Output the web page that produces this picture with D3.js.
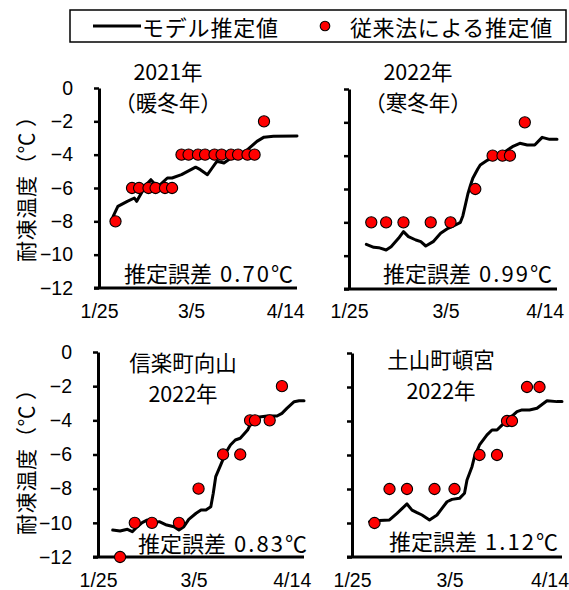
<!DOCTYPE html>
<html>
<head>
<meta charset="utf-8">
<script src="https://cdn.jsdelivr.net/npm/d3@7"></script>
<style>
  html, body { margin: 0; padding: 0; background: #fff; }
  svg { display: block; }
  svg text { text-spacing-trim: space-all; }
  .num { font-family: "Liberation Sans Narrow", "Liberation Sans", sans-serif; }
  .jp  { font-family: "Noto Sans CJK JP", sans-serif; }
</style>
</head>
<body>
<svg id="chart" width="569" height="590"></svg>
<script>
// ---- axis settings ----
const yTicks = [0, -2, -4, -6, -8, -10, -12];
const xTickDates = ["1/25", "3/5", "4/14"];
const axisStartDate = "1/25";
const axisEndDate = "4/19";

// ---- 2021 (warm winter) ----
const model2021Dates  = ["1/31","2/2","2/4","2/6","2/9","2/10","2/12","2/14","2/16","2/18","2/20","2/23","2/25","3/1","3/5","3/7","3/9","3/12","3/14","3/16","3/19","3/22","3/26","3/29","4/2","4/5","4/9","4/19"];
const model2021Values = [-7.7,-7.1,-6.95,-6.8,-6.6,-6.8,-6.3,-5.8,-5.5,-5.8,-5.8,-5.4,-5.4,-5.2,-4.9,-4.75,-4.9,-5.2,-4.8,-4.4,-4.5,-4.2,-4.0,-3.7,-3.2,-2.95,-2.9,-2.88];
const obs2021Dates  = ["2/1","2/8","2/11","2/15","2/18","2/22","2/25","3/1","3/4","3/8","3/11","3/15","3/18","3/22","3/25","3/29","4/1","4/5"];
const obs2021Values = [-8,-6,-6,-6,-6,-6,-6,-4,-4,-4,-4,-4,-4,-4,-4,-4,-4,-2];

// ---- 2022 (cold winter) ----
const model2022Dates  = ["2/1","2/4","2/6","2/9","2/11","2/14","2/16","2/18","2/21","2/23","2/25","2/28","3/3","3/6","3/9","3/11","3/12","3/13","3/14","3/15","3/16","3/18","3/19","3/22","3/26","3/29","4/1","4/4","4/7","4/10","4/13","4/16","4/19"];
const model2022Values = [-9.32,-9.5,-9.52,-9.66,-9.46,-8.96,-8.56,-8.86,-9.06,-9.16,-9.42,-9.16,-8.66,-8.36,-8.16,-8.0,-7.6,-6.95,-6.3,-5.8,-5.35,-4.8,-4.56,-4.26,-4.06,-3.76,-3.46,-3.26,-3.36,-3.36,-2.9,-3.02,-3.02];
const obs2022Dates  = ["2/3","2/9","2/16","2/27","3/7","3/17","3/24","3/28","3/31","4/6"];
const obs2022Values = [-8,-8,-8,-8,-8,-6,-4,-4,-4,-2];

// ---- 信楽町向山 2022 ----
const modelShigarakiDates  = ["1/31","2/3","2/6","2/8","2/10","2/12","2/14","2/17","2/19","2/22","2/25","2/27","3/1","3/3","3/6","3/8","3/10","3/12","3/13","3/14","3/16","3/18","3/20","3/22","3/24","3/27","3/29","3/31","4/4","4/8","4/10","4/12","4/15","4/17","4/19"];
const modelShigarakiValues = [-10.42,-10.48,-10.38,-10.52,-10.23,-9.99,-9.84,-9.99,-9.93,-10.13,-10.23,-10.42,-10.23,-9.8,-9.44,-9.25,-9.25,-9.06,-8.27,-7.3,-6.62,-5.93,-5.44,-5.15,-5.05,-4.57,-3.98,-3.82,-3.75,-3.75,-3.59,-3.3,-2.91,-2.85,-2.85];
const obsShigarakiDates  = ["2/3","2/9","2/16","2/27","3/7","3/17","3/24","3/28","3/30","4/5","4/10"];
const obsShigarakiValues = [-12,-10,-10,-10,-8,-6,-6,-4,-4,-4,-2];

// ---- 土山町頓宮 2022 ----
const modelTsuchiyamaDates  = ["2/1","2/5","2/9","2/12","2/16","2/18","2/20","2/22","2/25","2/28","3/2","3/4","3/6","3/9","3/11","3/12","3/14","3/15","3/17","3/20","3/22","3/24","3/26","3/29","4/1","4/3","4/6","4/9","4/13","4/17","4/19"];
const modelTsuchiyamaValues = [-9.92,-9.86,-9.82,-9.43,-8.88,-9.24,-9.39,-9.53,-9.82,-9.53,-9.14,-8.75,-8.61,-8.55,-8.25,-7.47,-6.69,-6.1,-5.41,-4.82,-4.53,-4.53,-4.24,-3.84,-3.45,-3.35,-3.35,-3.25,-2.81,-2.86,-2.86];
const obsTsuchiyamaDates  = ["2/3","2/9","2/16","2/27","3/7","3/17","3/24","3/28","3/30","4/5","4/10"];
const obsTsuchiyamaValues = [-10,-8,-8,-8,-8,-6,-6,-4,-4,-2,-2];

// ---- panel layout ----
const panels = [
  { year: 2021, md: model2021Dates, mv: model2021Values, od: obs2021Dates, ov: obs2021Values,
    title: ["2021年", "（暖冬年）"], titleX: 168, titleY: [79.5, 110.6],
    errHead: "推定誤差", errNum: "0.70℃", errX: 124, errY: 282,
    x0: 99, x1: 297, yTop: 88, yBot: 288, yLabels: true, xLabelY: 318 },
  { year: 2022, md: model2022Dates, mv: model2022Values, od: obs2022Dates, ov: obs2022Values,
    title: ["2022年", "（寒冬年）"], titleX: 418, titleY: [79.5, 110.6],
    errHead: "推定誤差", errNum: "0.99℃", errX: 383, errY: 282,
    x0: 349, x1: 557, yTop: 89, yBot: 289, yLabels: false, xLabelY: 318 },
  { year: 2022, md: modelShigarakiDates, mv: modelShigarakiValues, od: obsShigarakiDates, ov: obsShigarakiValues,
    title: ["信楽町向山", "2022年"], titleX: 183, titleY: [370.5, 401.6],
    errHead: "推定誤差", errNum: "0.83℃", errX: 138, errY: 552,
    x0: 98, x1: 304, yTop: 352, yBot: 557, yLabels: true, xLabelY: 587 },
  { year: 2022, md: modelTsuchiyamaDates, mv: modelTsuchiyamaValues, od: obsTsuchiyamaDates, ov: obsTsuchiyamaValues,
    title: ["土山町頓宮", "2022年"], titleX: 441, titleY: [367.5, 398.6],
    errHead: "推定誤差", errNum: "1.12℃", errX: 389, errY: 550,
    x0: 352, x1: 562, yTop: 353, yBot: 557, yLabels: false, xLabelY: 587 }
];

const toDate = (year, md) => {
  const [m, d] = md.split("/").map(Number);
  return new Date(year, m - 1, d);
};
const fmtMD = d3.timeFormat("%-m/%-d");

const svg = d3.select("#chart");
svg.append("rect").attr("width", 569).attr("height", 590).attr("fill", "#fff");

panels.forEach(p => {
  const x = d3.scaleTime()
    .domain([toDate(p.year, axisStartDate), toDate(p.year, axisEndDate)])
    .range([p.x0, p.x1]);
  const y = d3.scaleLinear().domain([0, -12]).range([p.yTop, p.yBot]);
  const g = svg.append("g");

  // y axis
  const yAxis = d3.axisLeft(y).tickValues(yTicks).tickSize(5).tickSizeOuter(0).tickPadding(21)
    .tickFormat(p.yLabels ? d3.format("") : () => "");
  const ya = g.append("g").attr("transform", `translate(${p.x0},0)`).call(yAxis);
  ya.select(".domain").attr("stroke", "#000").attr("stroke-width", 3);
  ya.selectAll(".tick line").attr("stroke", "#000").attr("stroke-width", 2.5);
  ya.selectAll(".tick text").attr("class", "num").attr("fill", "#000")
    .style("font-size", "19.5px");

  // x axis
  const xAxis = d3.axisBottom(x)
    .tickValues(xTickDates.map(s => toDate(p.year, s)))
    .tickSize(0).tickSizeOuter(0).tickPadding(p.xLabelY - p.yBot - 14)
    .tickFormat(fmtMD);
  const xa = g.append("g").attr("transform", `translate(0,${p.yBot})`).call(xAxis);
  xa.select(".domain").attr("stroke", "#000").attr("stroke-width", 3)
    .attr("d", `M${p.x0 - 5},0H${p.x1}`);
  xa.selectAll(".tick text").attr("class", "num").attr("fill", "#000")
    .style("font-size", "19.5px");

  // model line
  const lineData = p.md.map((s, i) => ({ d: toDate(p.year, s), v: p.mv[i] }));
  g.append("path").datum(lineData)
    .attr("fill", "none").attr("stroke", "#000").attr("stroke-width", 3)
    .attr("stroke-linejoin", "round").attr("stroke-linecap", "round")
    .attr("d", d3.line().x(d => x(d.d)).y(d => y(d.v)));

  // conventional estimates
  const obsData = p.od.map((s, i) => ({ d: toDate(p.year, s), v: p.ov[i] }));
  g.selectAll("circle.obs").data(obsData).join("circle")
    .attr("class", "obs")
    .attr("cx", d => x(d.d)).attr("cy", d => y(d.v)).attr("r", 5.6)
    .attr("fill", "#ff0000").attr("stroke", "#000").attr("stroke-width", 1.1);

  // two-line title
  const tt = g.append("text").attr("class", "jp").attr("text-anchor", "middle")
    .style("font-size", "21.5px").attr("fill", "#000");
  p.title.forEach((t, i) => {
    tt.append("tspan").attr("x", p.titleX).attr("y", p.titleY[i]).text(t);
  });

  // error label
  const et = g.append("text").attr("class", "jp").attr("y", p.errY)
    .style("font-size", "22px").attr("fill", "#000");
  et.append("tspan").attr("x", p.errX).text(p.errHead);
  et.append("tspan").attr("x", p.errX + 96)
    .attr("textLength", 73).attr("lengthAdjust", "spacing").text(p.errNum);
});

// y axis titles: one glyph position per character along the rotated baseline
const yTitleAdvance = [0, 21.7, 43.4, 65.1, 87, 108.5, 135];
[262, 535].forEach(y0 => {
  svg.append("text").attr("class", "jp")
    .attr("transform", `translate(25,${y0}) rotate(-90)`)
    .attr("x", yTitleAdvance.join(" "))
    .attr("dominant-baseline", "central")
    .style("font-size", "21px").attr("fill", "#000")
    .text("耐凍温度（℃）");
});

// legend
const lg = svg.append("g");
lg.append("rect").attr("x", 70).attr("y", 10).attr("width", 496).attr("height", 32)
  .attr("fill", "#fff").attr("stroke", "#000").attr("stroke-width", 1.5);
lg.append("line").attr("x1", 93).attr("x2", 141).attr("y1", 26).attr("y2", 26)
  .attr("stroke", "#000").attr("stroke-width", 3);
lg.append("text").attr("class", "jp").attr("x", 142).attr("y", 26)
  .attr("dominant-baseline", "central").style("font-size", "22px")
  .style("letter-spacing", "0.8px").text("モデル推定値");
lg.append("circle").attr("cx", 325).attr("cy", 26).attr("r", 4.8)
  .attr("fill", "#ff0000").attr("stroke", "#000").attr("stroke-width", 1.1);
lg.append("text").attr("class", "jp").attr("x", 350).attr("y", 26)
  .attr("dominant-baseline", "central").style("font-size", "22px")
  .style("letter-spacing", "0.6px").text("従来法による推定値");
</script>
</body>
</html>
